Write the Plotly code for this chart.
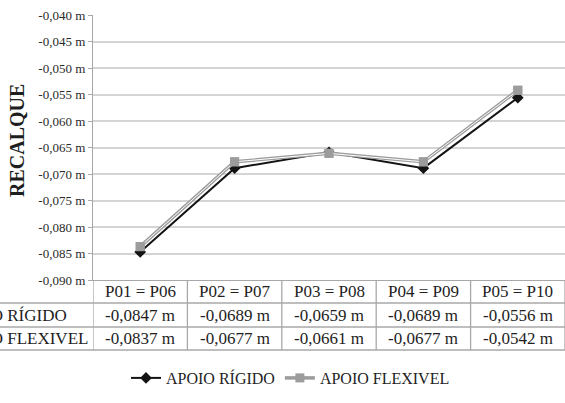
import plotly.graph_objects as go

# ---- data ----
categories = ["P01 = P06", "P02 = P07", "P03 = P08", "P04 = P09", "P05 = P10"]
series_names = ["APOIO RÍGIDO", "APOIO FLEXIVEL"]
rigido = [-0.0847, -0.0689, -0.0659, -0.0689, -0.0556]
flexivel = [-0.0837, -0.0677, -0.0661, -0.0677, -0.0542]
ytick_vals = [-0.090, -0.085, -0.080, -0.075, -0.070, -0.065, -0.060, -0.055, -0.050, -0.045, -0.040]
ytick_text = ["-0,090 m", "-0,085 m", "-0,080 m", "-0,075 m", "-0,070 m", "-0,065 m",
              "-0,060 m", "-0,055 m", "-0,050 m", "-0,045 m", "-0,040 m"]
y_title = "RECALQUE"

FONT = "Liberation Serif"
TXT = "#1e1e1e"
BLACK = "#141414"
GRAY = "#9c9c9c"
GRID = "#d4d4d4"
AXIS = "#a8a8a8"

W, H = 565, 403
ML, MR, MT, MB = 93, 0, 15, 123
plot_h = H - MT - MB
plot_w = W - ML - MR


def py(pix):
    """pixel row (from top) -> paper y"""
    return (H - MB - pix) / plot_h


def px(pix):
    return (pix - ML) / plot_w


fig = go.Figure()
fig.add_trace(go.Scatter(
    x=categories, y=rigido, name=series_names[0], mode="lines+markers",
    line=dict(color=BLACK, width=2),
    marker=dict(symbol="diamond", size=9, color=BLACK),
))
fig.add_trace(go.Scatter(
    x=categories, y=flexivel, name=series_names[1], mode="lines+markers",
    line=dict(color=GRAY, width=3.5),
    marker=dict(symbol="square", size=9, color=GRAY),
))
fig.add_trace(go.Scatter(
    x=categories, y=flexivel, mode="lines", showlegend=False, hoverinfo="skip",
    line=dict(color="white", width=1),
))
fig.add_trace(go.Scatter(
    x=categories, y=flexivel, mode="markers", showlegend=False, hoverinfo="skip",
    marker=dict(symbol="square", size=9, color=GRAY),
))

shapes = []
# vertical table borders
table_bottom = py(350)
for i in range(len(categories) + 1):
    shapes.append(dict(type="line", xref="x", yref="paper", x0=i - 0.5, x1=i - 0.5,
                       y0=0, y1=table_bottom, line=dict(color=AXIS, width=1.3)))
# horizontal table borders
for yy in (303, 327, 350):
    shapes.append(dict(type="line", xref="paper", yref="paper", x0=px(0), x1=1,
                       y0=py(yy), y1=py(yy), line=dict(color=AXIS, width=1.3)))
# no gridline at the top of the plot
shapes.append(dict(type="line", xref="paper", yref="y", x0=0.004, x1=1,
                   y0=ytick_vals[-1], y1=ytick_vals[-1], line=dict(color="white", width=2)))

annotations = []
# header row of the data table
for cat in categories:
    annotations.append(dict(xref="x", yref="paper", x=cat, y=py(291.5),
                            xanchor="center", yanchor="middle", showarrow=False,
                            text=cat, font=dict(family=FONT, size=17, color=TXT)))
rows = [(series_names[0], rigido, 315), (series_names[1], flexivel, 338.5)]
for name, vals, yc in rows:
    annotations.append(dict(xref="paper", yref="paper", x=px(-51), y=py(yc),
                            xanchor="left", yanchor="middle", showarrow=False,
                            text=name, font=dict(family=FONT, size=17, color=TXT)))
    for cat, v in zip(categories, vals):
        annotations.append(dict(xref="x", yref="paper", x=cat, y=py(yc),
                                xanchor="center", yanchor="middle", showarrow=False,
                                text=f"{v:.4f}".replace(".", ",") + " m",
                                font=dict(family=FONT, size=17, color=TXT)))
# y-axis title
annotations.append(dict(xref="paper", yref="paper", x=px(17), y=py(141),
                        xanchor="center", yanchor="middle", showarrow=False,
                        textangle=-90, text=f"<b>{y_title}</b>",
                        font=dict(family=FONT, size=20, color=TXT)))

fig.update_layout(
    width=W, height=H,
    margin=dict(l=ML, r=MR, t=MT, b=MB, pad=0),
    paper_bgcolor="white", plot_bgcolor="white",
    font=dict(family=FONT, color=TXT),
    shapes=shapes, annotations=annotations,
    showlegend=True,
    legend=dict(orientation="h", xref="container", yref="container",
                x=0.223, y=1 - 378 / H, xanchor="left", yanchor="middle",
                font=dict(family=FONT, size=16, color=TXT),
                bgcolor="rgba(0,0,0,0)"),
    xaxis=dict(type="category", range=[-0.5, 4.5], showgrid=False, showline=True,
               linecolor=AXIS, linewidth=1.3, ticks="", zeroline=False,
               showticklabels=False),
    yaxis=dict(range=[ytick_vals[0], ytick_vals[-1]], tickmode="array",
               tickvals=ytick_vals, ticktext=ytick_text,
               showgrid=True, gridcolor=GRID, gridwidth=1.5,
               showline=True, linecolor=AXIS, linewidth=1.3,
               ticks="outside", ticklen=4, tickcolor=AXIS, zeroline=False,
               ticklabelstandoff=0,
               tickfont=dict(family=FONT, size=13, color="#2a2a2a")),
)

fig.write_html("out.html", config={"displayModeBar": False},
               post_script="document.body.style.margin='0';")
